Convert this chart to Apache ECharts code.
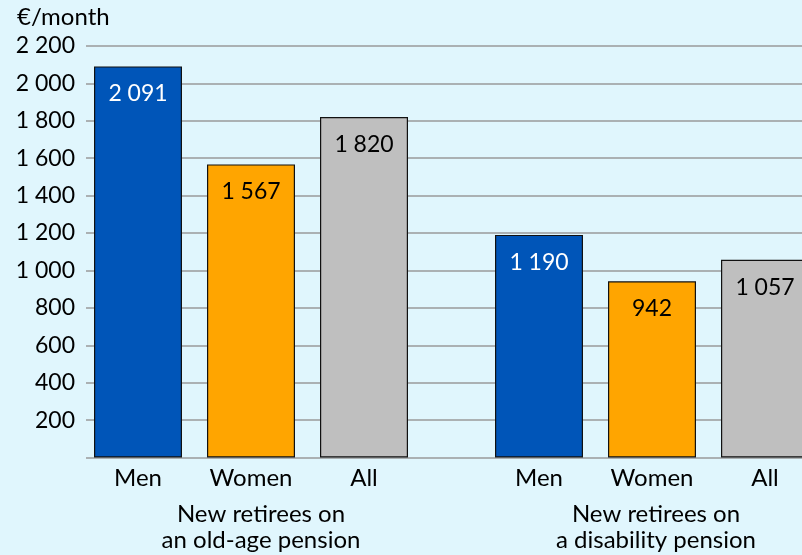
<!DOCTYPE html>
<html>
<head>
<meta charset="utf-8">
<script src="https://cdn.jsdelivr.net/npm/echarts@6/dist/echarts.min.js"></script>
<style>
html,body{margin:0;padding:0;background:#e0f6fd;overflow:hidden;width:802px;height:555px;}
#c{width:840px;height:555px;}
</style>
</head>
<body>
<div id="c"></div>
<script>
const categories = ['Men', 'Women', 'All'];
const oldAgeValues = [2091, 1567, 1820];
const disabilityValues = [1190, 942, 1057];
const groupLabels = ['New retirees on\nan old-age pension', 'New retirees on\na disability pension'];
const unitLabel = '€/month';
const yTicks = [0, 200, 400, 600, 800, 1000, 1200, 1400, 1600, 1800, 2000, 2200];

const barColors = ['#0055b8', '#ffa500', '#bfbfbf'];
const labelColors = ['#ffffff', '#000000', '#000000'];
const FONT = 'Lato';
const FS_NUM = 23;
const FS_TXT = 24;

function fmt(v) {
  return String(v).replace(/\B(?=(\d{3})+(?!\d))/g, ' ');
}

const chart = echarts.init(document.getElementById('c'), null, {renderer: 'canvas'});

const gTop = 46, gBottom = 97.5;
function dataItems(vals) {
  return vals.map((v, i) => ({
    value: v,
    itemStyle: {color: barColors[i], borderColor: '#111111', borderWidth: 1.2},
    label: {color: labelColors[i]}
  }));
}
const yBase = {type: 'value', min: yTicks[0], max: yTicks[yTicks.length - 1], interval: 200};

const option = {
  backgroundColor: '#e0f6fd',
  animation: false,
  textStyle: {fontFamily: FONT},
  grid: [
    {left: 86, right: 0, top: gTop, bottom: gBottom},
    {left: 81.5, width: 339, top: gTop, bottom: gBottom},
    {left: 482.5, width: 339, top: gTop, bottom: gBottom}
  ],
  xAxis: [
    {gridIndex: 0, type: 'category', data: [''], show: false},
    {gridIndex: 1, type: 'category', data: categories,
      axisLine: {show: false}, axisTick: {show: false},
      axisLabel: {color: '#000', fontFamily: FONT, fontSize: FS_TXT, margin: 9}},
    {gridIndex: 2, type: 'category', data: categories,
      axisLine: {show: false}, axisTick: {show: false},
      axisLabel: {color: '#000', fontFamily: FONT, fontSize: FS_TXT, margin: 9}}
  ],
  yAxis: [
    Object.assign({gridIndex: 0}, yBase, {
      axisLine: {show: false}, axisTick: {show: false},
      splitLine: {show: true, lineStyle: {color: '#9a9a9a', width: 1.5}},
      axisLabel: {color: '#000', fontFamily: FONT, fontSize: FS_NUM, margin: 11,
        formatter: v => v === 0 ? '' : fmt(v)}
    }),
    Object.assign({gridIndex: 1, show: false}, yBase, {splitLine: {show: false}}),
    Object.assign({gridIndex: 2, show: false}, yBase, {splitLine: {show: false}})
  ],
  graphic: [
    {type: 'text', left: 17, top: 5, style: {text: unitLabel, font: FS_TXT + 'px ' + FONT, fill: '#000'}},
    {type: 'text', x: 261, y: 501, style: {text: groupLabels[0], font: FS_TXT + 'px ' + FONT, fill: '#000', align: 'center', lineHeight: 26}},
    {type: 'text', x: 656, y: 501, style: {text: groupLabels[1], font: FS_TXT + 'px ' + FONT, fill: '#000', align: 'center', lineHeight: 26}}
  ],
  series: [
    {type: 'bar', xAxisIndex: 1, yAxisIndex: 1, barWidth: 88, data: dataItems(oldAgeValues),
      label: {show: true, position: 'insideTop', distance: 16, fontFamily: FONT, fontSize: FS_NUM, formatter: p => fmt(p.value)}},
    {type: 'bar', xAxisIndex: 2, yAxisIndex: 2, barWidth: 88, data: dataItems(disabilityValues),
      label: {show: true, position: 'insideTop', distance: 16, fontFamily: FONT, fontSize: FS_NUM, formatter: p => fmt(p.value)}}
  ]
};
chart.setOption(option);
</script>
</body>
</html>
